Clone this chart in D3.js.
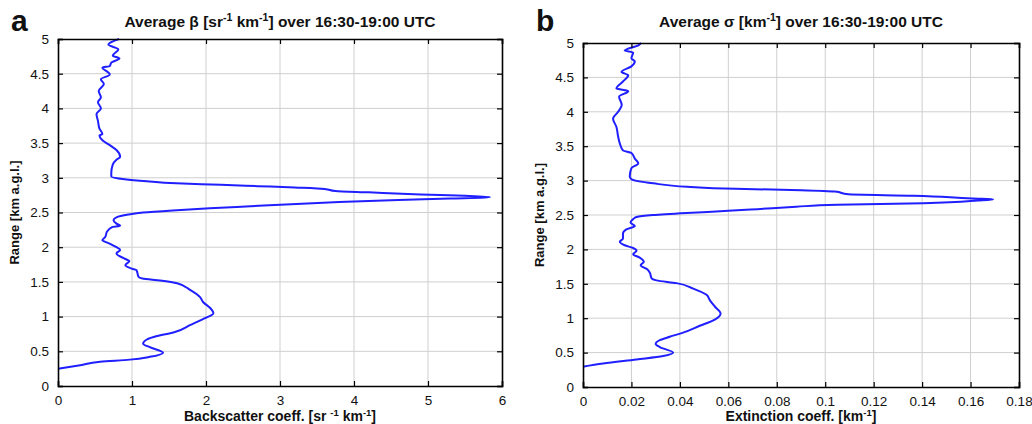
<!DOCTYPE html>
<html>
<head>
<meta charset="utf-8">
<script src="https://cdn.jsdelivr.net/npm/d3@7"></script>
<style>
  body { margin: 0; background: #fff; }
  text { font-family: "Liberation Sans", Arial, sans-serif; fill: #111; }
</style>
</head>
<body>
<div id="chart"></div>
<script>
// range (km a.g.l.) and backscatter coefficient, panel a
var betaHeight = [0.25, 0.30, 0.35, 0.38, 0.42, 0.48, 0.56, 0.61, 0.67, 0.72, 0.77, 0.88, 0.97, 1.05, 1.12, 1.21, 1.28, 1.38, 1.48, 1.52, 1.55, 1.57, 1.67, 1.69, 1.74, 1.80, 1.83, 1.91, 1.96, 2.00, 2.06, 2.10, 2.15, 2.22, 2.29, 2.31, 2.34, 2.39, 2.43, 2.47, 2.50, 2.53, 2.56, 2.59, 2.62, 2.65, 2.68, 2.70, 2.72, 2.74, 2.76, 2.79, 2.81, 2.84, 2.86, 2.88, 2.90, 2.92, 2.95, 2.98, 3.02, 3.07, 3.19, 3.26, 3.30, 3.40, 3.47, 3.54, 3.61, 3.63, 3.71, 3.82, 3.92, 4.00, 4.09, 4.16, 4.25, 4.35, 4.42, 4.49, 4.59, 4.61, 4.66, 4.72, 4.76, 4.85, 4.92, 5.00];
var betaValue = [0.00, 0.30, 0.57, 0.97, 1.24, 1.42, 1.24, 1.15, 1.20, 1.34, 1.56, 1.79, 1.97, 2.10, 2.06, 1.96, 1.92, 1.79, 1.61, 1.38, 1.14, 1.09, 1.06, 1.00, 0.91, 0.965, 0.91, 0.79, 0.84, 0.79, 0.68, 0.60, 0.64, 0.66, 0.73, 0.84, 0.79, 0.75, 0.79, 0.95, 1.15, 1.55, 2.05, 2.60, 3.15, 3.80, 4.60, 5.30, 5.84, 5.50, 4.90, 4.20, 3.75, 3.60, 3.20, 2.70, 2.20, 1.60, 1.20, 0.90, 0.72, 0.72, 0.74, 0.79, 0.84, 0.79, 0.70, 0.60, 0.56, 0.60, 0.56, 0.54, 0.52, 0.58, 0.54, 0.58, 0.55, 0.62, 0.58, 0.70, 0.60, 0.70, 0.72, 0.83, 0.74, 0.815, 0.68, 0.825];

// range (km a.g.l.) and extinction coefficient, panel b
var sigmaHeight = [0.295, 0.34, 0.40, 0.45, 0.50, 0.58, 0.625, 0.68, 0.73, 0.79, 0.89, 0.98, 1.07, 1.17, 1.26, 1.34, 1.43, 1.51, 1.55, 1.58, 1.66, 1.71, 1.77, 1.82, 1.88, 1.93, 1.98, 2.02, 2.06, 2.11, 2.16, 2.23, 2.29, 2.34, 2.39, 2.44, 2.47, 2.50, 2.53, 2.56, 2.585, 2.62, 2.65, 2.67, 2.71, 2.73, 2.74, 2.78, 2.80, 2.84, 2.86, 2.87, 2.88, 2.91, 2.96, 3.02, 3.06, 3.18, 3.25, 3.32, 3.40, 3.44, 3.54, 3.64, 3.78, 3.90, 4.00, 4.10, 4.22, 4.30, 4.34, 4.44, 4.53, 4.58, 4.66, 4.73, 4.78, 4.86, 4.89, 4.97, 5.00];
var sigmaValue = [0, 0.0083, 0.0221, 0.0331, 0.0372, 0.0317, 0.030, 0.0317, 0.0358, 0.0413, 0.0482, 0.0544, 0.0568, 0.0544, 0.0524, 0.051, 0.0455, 0.0386, 0.0303, 0.0283, 0.0276, 0.0265, 0.0238, 0.0251, 0.0234, 0.0207, 0.0221, 0.0207, 0.0172, 0.0152, 0.0165, 0.0165, 0.0179, 0.0214, 0.0196, 0.0207, 0.0221, 0.0289, 0.0427, 0.060, 0.072, 0.088, 0.105, 0.1405, 0.163, 0.1694, 0.161, 0.1364, 0.1095, 0.104, 0.090, 0.078, 0.063, 0.043, 0.029, 0.020, 0.0193, 0.020, 0.0228, 0.0214, 0.020, 0.0165, 0.0152, 0.0145, 0.0138, 0.0124, 0.0145, 0.0160, 0.0149, 0.0187, 0.0138, 0.0165, 0.0187, 0.0159, 0.020, 0.0214, 0.020, 0.0207, 0.0172, 0.023, 0.024];

var yTicks = [0, 0.5, 1, 1.5, 2, 2.5, 3, 3.5, 4, 4.5, 5];
var betaTicks = [0, 1, 2, 3, 4, 5, 6];
var sigmaTicks = [0, 0.02, 0.04, 0.06, 0.08, 0.1, 0.12, 0.14, 0.16, 0.18];

var svg = d3.select("#chart").append("svg")
  .attr("width", 1032)
  .attr("height", 424);

// text with superscripts: parts = [[string, isSup], ...]
function richText(sel, parts, size) {
  var lastSup = false;
  parts.forEach(p => {
    var t = sel.append("tspan").text(p[0]);
    if (p[1]) {
      t.attr("font-size", size * 0.68).attr("dy", -size * 0.38);
    } else if (lastSup) {
      t.attr("dy", size * 0.38);
    }
    lastSup = p[1];
  });
}

function panel(cfg) {
  var g = svg.append("g");
  var x = d3.scaleLinear().domain(cfg.xDomain).range([cfg.left, cfg.right]);
  var y = d3.scaleLinear().domain([0, 5]).range([cfg.bottom, cfg.top]);

  // grid
  g.selectAll(".gx").data(cfg.xTicks.slice(1, -1)).join("line")
    .attr("x1", d => x(d)).attr("x2", d => x(d))
    .attr("y1", cfg.top).attr("y2", cfg.bottom)
    .attr("stroke", "#cfcfcf").attr("stroke-width", 1);
  g.selectAll(".gy").data(yTicks.slice(1, -1)).join("line")
    .attr("y1", d => y(d)).attr("y2", d => y(d))
    .attr("x1", cfg.left).attr("x2", cfg.right)
    .attr("stroke", "#cfcfcf").attr("stroke-width", 1);

  // profile
  var pts = cfg.heights.map((h, i) => [cfg.values[i], h]);
  g.append("path")
    .datum(pts)
    .attr("fill", "none")
    .attr("stroke", "#1f1fff")
    .attr("stroke-width", 2)
    .attr("stroke-linejoin", "round")
    .attr("d", d3.line().x(d => x(d[0])).y(d => y(d[1])).curve(d3.curveMonotoneY));

  // axes with inward ticks on all sides
  g.append("g").attr("transform", "translate(0," + cfg.bottom + ")")
    .call(d3.axisBottom(x).tickValues(cfg.xTicks).tickSize(-5).tickPadding(9).tickFormat(cfg.fmt));
  g.append("g").attr("transform", "translate(0," + cfg.top + ")")
    .call(d3.axisTop(x).tickValues(cfg.xTicks).tickSize(-5).tickFormat(""));
  g.append("g").attr("transform", "translate(" + cfg.left + ",0)")
    .call(d3.axisLeft(y).tickValues(yTicks).tickSize(-5).tickPadding(9).tickFormat(d3.format("")));
  g.append("g").attr("transform", "translate(" + cfg.right + ",0)")
    .call(d3.axisRight(y).tickValues(yTicks).tickSize(-5).tickFormat(""));
  g.selectAll(".domain").attr("stroke", "#000").attr("stroke-width", 1.6);
  g.selectAll(".tick line").attr("stroke", "#000").attr("stroke-width", 1.2);
  g.selectAll(".tick text").attr("font-size", 13.5).attr("font-family", "Liberation Sans, Arial, sans-serif").attr("fill", "#111");

  // title
  var title = g.append("text")
    .attr("x", (cfg.left + cfg.right) / 2).attr("y", 27)
    .attr("text-anchor", "middle")
    .attr("font-size", 15.5).attr("font-weight", "bold");
  richText(title, cfg.title, 15.5);

  // x label
  var xl = g.append("text")
    .attr("x", (cfg.left + cfg.right) / 2).attr("y", 421)
    .attr("text-anchor", "middle")
    .attr("font-size", 14).attr("font-weight", "bold");
  richText(xl, cfg.xLabel, 14);

  // y label
  g.append("text")
    .attr("transform", "translate(" + (cfg.left - 39) + "," + ((cfg.top + cfg.bottom) / 2) + ") rotate(-90)")
    .attr("text-anchor", "middle")
    .attr("font-size", 13).attr("font-weight", "bold")
    .text("Range [km a.g.l.]");

  // panel letter
  g.append("text")
    .attr("x", cfg.letterX).attr("y", 31)
    .attr("font-size", 30).attr("font-weight", "bold")
    .text(cfg.letter);
}

panel({
  left: 58, right: 502, top: 39, bottom: 386,
  xDomain: [0, 6], xTicks: betaTicks, fmt: d3.format(""),
  heights: betaHeight, values: betaValue,
  title: [["Average \u03b2 [sr", false], ["-1", true], [" km", false], ["-1", true], ["] over 16:30-19:00 UTC", false]],
  xLabel: [["Backscatter coeff. [sr ", false], ["-1", true], [" km", false], ["-1", true], ["]", false]],
  letter: "a", letterX: 11
});

panel({
  left: 583, right: 1019, top: 43, bottom: 387,
  xDomain: [0, 0.18], xTicks: sigmaTicks, fmt: d => d === 0 ? "0" : d3.format("")(+d.toFixed(2)),
  heights: sigmaHeight, values: sigmaValue,
  title: [["Average \u03c3 [km", false], ["-1", true], ["] over 16:30-19:00 UTC", false]],
  xLabel: [["Extinction coeff. [km", false], ["-1", true], ["]", false]],
  letter: "b", letterX: 536
});
</script>
</body>
</html>
